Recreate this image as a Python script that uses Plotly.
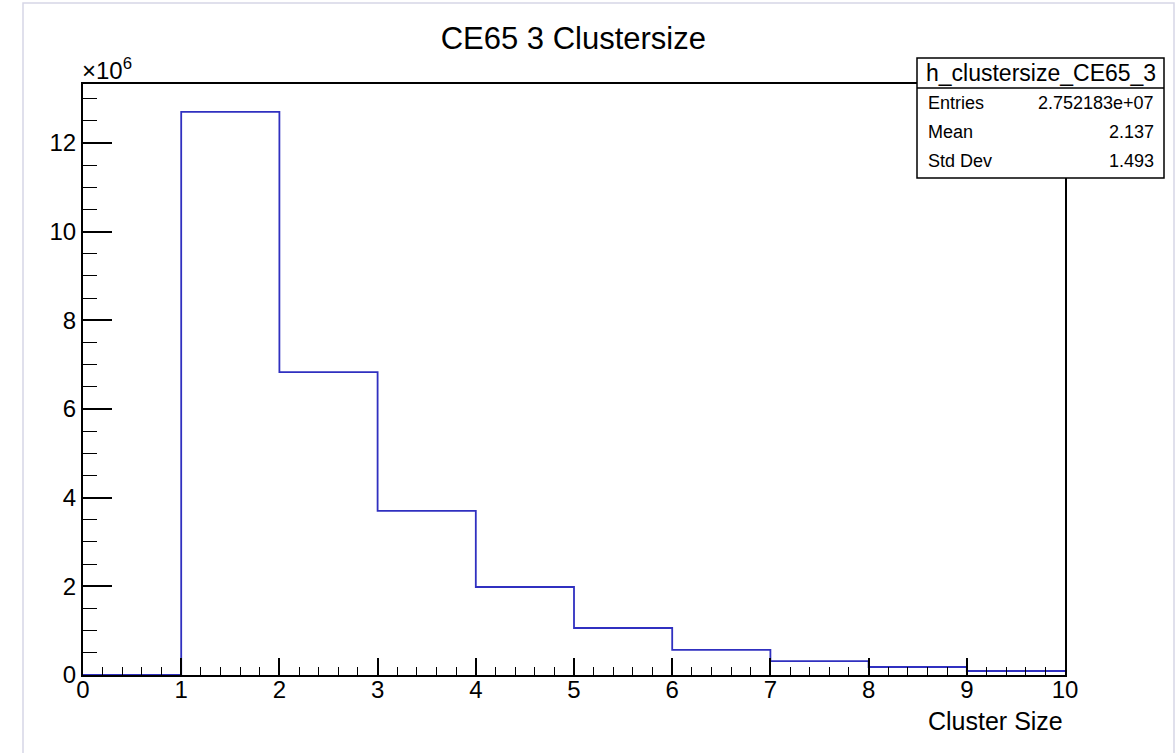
import plotly.graph_objects as go

# histogram h_clustersize_CE65_3 (bin edges 0..10, contents in units of 1e6)
bin_edges = [0, 1, 2, 3, 4, 5, 6, 7, 8, 9, 10]
bin_counts = [0.0, 12.70, 6.83, 3.70, 1.985, 1.06, 0.565, 0.315, 0.18, 0.09]

stats_title = "h_clustersize_CE65_3"
stats_names = ["Entries", "Mean", "Std Dev"]
stats_values = ["2.752183e+07", "2.137", "1.493"]

FONT = "Liberation Sans, Arial, Helvetica, sans-serif"

# step outline like ROOT's default histogram drawing
ys = [c * 1e6 for c in bin_counts]
ys = ys + [ys[-1]]

fig = go.Figure()
fig.add_trace(go.Scatter(
    x=bin_edges, y=ys, mode="lines", line_shape="hv",
    line=dict(color="#3030c0", width=1.8), showlegend=False, hoverinfo="skip",
))

fig.update_layout(
    width=1176, height=753,
    margin=dict(l=83, r=111, t=84, b=78),
    paper_bgcolor="white", plot_bgcolor="white",
    font=dict(family=FONT, color="black", size=24),
    title=dict(text="CE65 3 Clustersize", x=0.4875, xanchor="center",
               y=1 - 38 / 753, yanchor="middle", font=dict(size=31)),
    showlegend=False,
)

fig.update_xaxes(
    range=[0, 10], tickmode="linear", tick0=0, dtick=1,
    ticks="inside", ticklen=17, tickwidth=1.5, tickcolor="black",
    minor=dict(dtick=0.2, ticks="inside", ticklen=8, tickwidth=1.2, tickcolor="black"),
    showline=True, linecolor="black", linewidth=2, mirror=True,
    showgrid=False, zeroline=False,
    tickfont=dict(size=24), ticklabelstandoff=-8,
)
fig.update_yaxes(
    range=[0, 13.33e6], tickmode="array",
    tickvals=[0, 2e6, 4e6, 6e6, 8e6, 10e6, 12e6],
    ticktext=["0", "2", "4", "6", "8", "10", "12"],
    ticks="inside", ticklen=29, tickwidth=1.5, tickcolor="black",
    minor=dict(tickmode="linear", tick0=0, dtick=0.5e6, ticks="inside",
               ticklen=14, tickwidth=1.2, tickcolor="black"),
    showline=True, linecolor="black", linewidth=2, mirror=True,
    showgrid=False, zeroline=False,
    tickfont=dict(size=24),
)

# axis title and exponent label
fig.add_annotation(text="Cluster Size", xref="paper", yref="paper",
                   x=1.0, y=-0.05, xanchor="right", yanchor="top",
                   showarrow=False, font=dict(size=25))
fig.add_annotation(text="×10<sup>6</sup>", xref="paper", yref="paper",
                   x=-0.003, y=0.996, xanchor="left", yanchor="bottom",
                   showarrow=False, font=dict(size=24))

# stats box (pixel coords converted to paper)
pl, pr, pt, pb = 83, 1065, 84, 675
def px(xp):
    return (xp - pl) / (pr - pl)
def py(yp):
    return (pb - yp) / (pb - pt)

bx0, bx1, by0, by1, bsep = 917, 1164, 58, 178, 88
fig.add_shape(type="rect", xref="paper", yref="paper",
              x0=px(bx0), x1=px(bx1), y0=py(by1), y1=py(by0),
              line=dict(color="black", width=1.5), fillcolor="white")
fig.add_shape(type="line", xref="paper", yref="paper",
              x0=px(bx0), x1=px(bx1), y0=py(bsep), y1=py(bsep),
              line=dict(color="black", width=1.5))
fig.add_annotation(text=stats_title, xref="paper", yref="paper",
                   x=px((bx0 + bx1) / 2), y=py(73), xanchor="center", yanchor="middle",
                   showarrow=False, font=dict(size=23))
for i, (n, v) in enumerate(zip(stats_names, stats_values)):
    yy = py(103 + 29 * i)
    fig.add_annotation(text=n, xref="paper", yref="paper", x=px(bx0 + 9), y=yy,
                       xanchor="left", yanchor="middle", showarrow=False,
                       font=dict(size=18))
    fig.add_annotation(text=v, xref="paper", yref="paper", x=px(bx1 - 8), y=yy,
                       xanchor="right", yanchor="middle", showarrow=False,
                       font=dict(size=18))

# faint window frame around the canvas
fig.add_shape(type="rect", xref="paper", yref="paper",
              x0=px(23), x1=px(1174), y0=py(760), y1=py(3),
              line=dict(color="#d6d6e6", width=1.5), layer="below")

# drop the default body margin so the figure sits at the window origin
fig.write_html("out.html", config={"displayModeBar": False},
               post_script="document.body.style.margin='0px';")
